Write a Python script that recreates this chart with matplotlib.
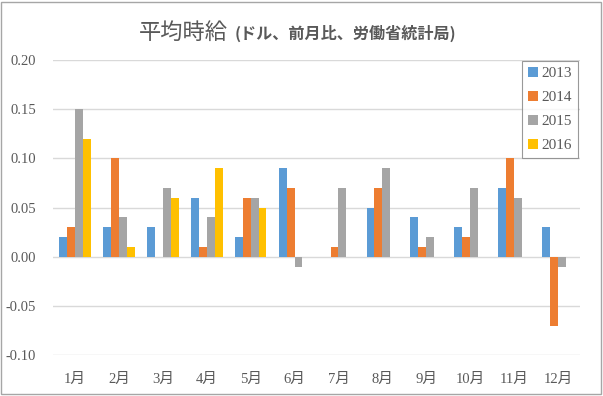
import matplotlib
matplotlib.use("Agg")
import matplotlib.pyplot as plt
import numpy as np
from matplotlib.patches import Rectangle

months = ["1月", "2月", "3月", "4月", "5月", "6月", "7月", "8月", "9月", "10月", "11月", "12月"]
series_names = ["2013", "2014", "2015", "2016"]
v2013 = [0.02, 0.03, 0.03, 0.06, 0.02, 0.09, 0.00, 0.05, 0.04, 0.03, 0.07, 0.03]
v2014 = [0.03, 0.10, 0.00, 0.01, 0.06, 0.07, 0.01, 0.07, 0.01, 0.02, 0.10, -0.07]
v2015 = [0.15, 0.04, 0.07, 0.04, 0.06, -0.01, 0.07, 0.09, 0.02, 0.07, 0.06, -0.01]
v2016 = [0.12, 0.01, 0.06, 0.09, 0.05, np.nan, np.nan, np.nan, np.nan, np.nan, np.nan, np.nan]
colors = ["#5B9BD5", "#ED7D31", "#A5A5A5", "#FFC000"]
yticks = [-0.10, -0.05, 0.00, 0.05, 0.10, 0.15, 0.20]

label_fonts = ["Liberation Serif", "Noto Sans CJK JP", "DejaVu Sans"]

fig = plt.figure(figsize=(6.03, 3.96), dpi=100)
fig.patch.set_facecolor("white")
fig.add_artist(Rectangle((0.002, 0.004), 0.995, 0.992, transform=fig.transFigure,
                         fill=False, edgecolor="#A6A6A6", linewidth=1.0))

ax = fig.add_axes([53/603, 1-355/396, (580-53)/603, (355-60)/396])
x = np.arange(len(months))
w = 0.18
data = [v2013, v2014, v2015, v2016]
for i, (vals, name, c) in enumerate(zip(data, series_names, colors)):
    ax.bar(x + (i - 1.5) * w, vals, width=w, color=c, label=name, zorder=3)

ax.set_xlim(-0.5, len(months) - 0.5)
ax.set_ylim(-0.10, 0.20)
ax.set_yticks(yticks)
ax.set_yticklabels([f"{t:.2f}" for t in yticks], family=label_fonts, fontsize=10.5, color="#595959")
ax.set_xticks(x)
ax.set_xticklabels(months, family=label_fonts, fontsize=10.5, color="#595959")
ax.tick_params(axis="both", length=0)
ax.tick_params(axis="y", pad=12)
ax.tick_params(axis="x", pad=13)
for s in ax.spines.values():
    s.set_visible(False)
ax.grid(axis="y", color="#D9D9D9", linewidth=1.0, zorder=0)
ax.set_axisbelow(True)

leg = fig.legend(loc="upper right", bbox_to_anchor=(578/603, 1-61/396), frameon=True,
                 fancybox=False, edgecolor="#808080", handlelength=0.6, handleheight=0.6,
                 handletextpad=0.25, labelspacing=0.7, borderpad=0.4, borderaxespad=0,
                 prop={"family": label_fonts, "size": 11})
leg.get_frame().set_linewidth(0.8)
for t in leg.get_texts():
    t.set_color("#595959")

fig.text(139/603, 1-32/396, "平均時給", family=["Noto Sans CJK JP", "DejaVu Sans"],
         fontsize=16, color="#595959", ha="left", va="center")
fig.text(235/603, 1-33/396, "(ドル、前月比、労働省統計局)", family=["Noto Sans CJK JP", "DejaVu Sans"],
         fontsize=11.6, color="#595959", ha="left", va="center", weight="bold")

fig.savefig("out.png", dpi=100)
